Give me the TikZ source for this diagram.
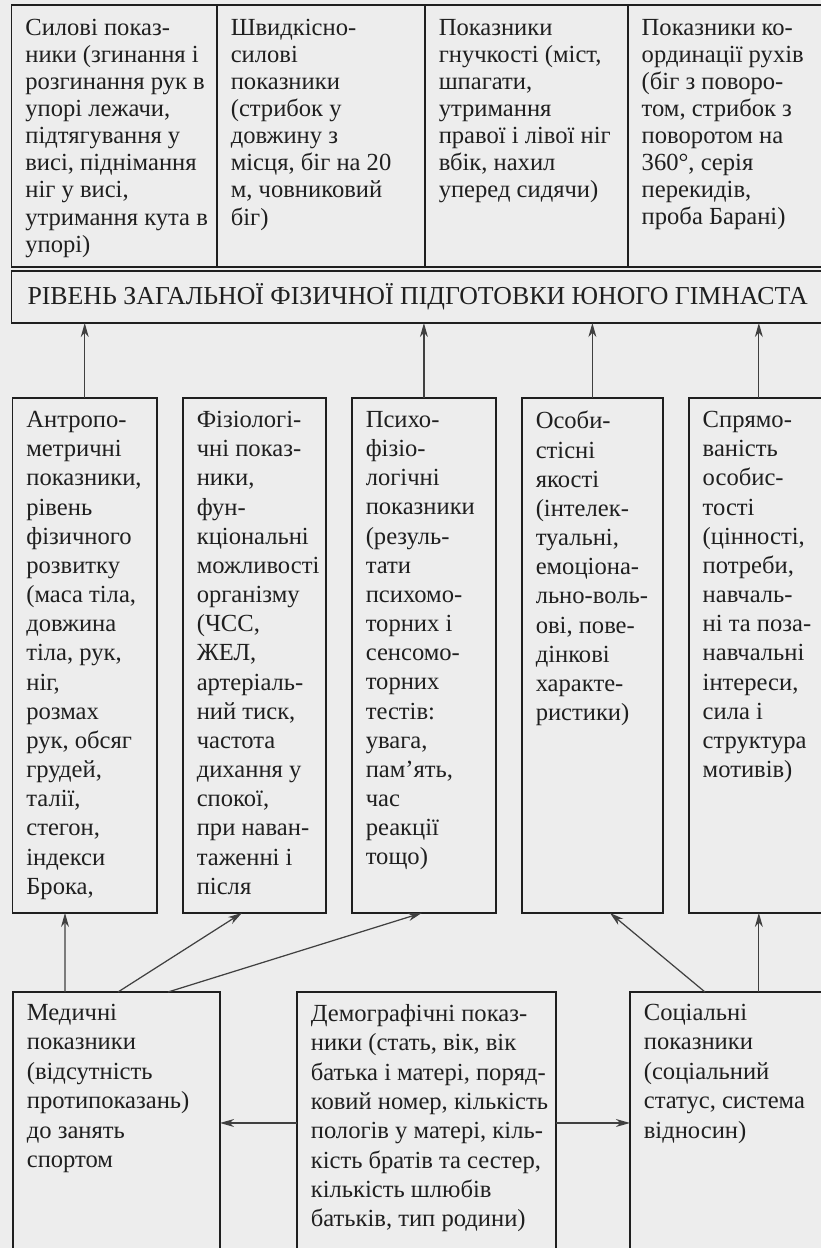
\documentclass[tikz,border=0pt]{standalone}
\usepackage{fontspec}
\setmainfont{Liberation Serif}
\usepackage{xcolor}
\usepackage{tikz}
\usetikzlibrary{arrows.meta, positioning, calc}

\definecolor{ink}{gray}{0.12}
\definecolor{paper}{gray}{0.93}

\begin{document}
\begin{tikzpicture}[x=0.02cm, y=-0.02cm,
    cell/.style={draw=ink, line width=0.8pt, inner sep=0pt, outer sep=0pt, anchor=north west},
    toptxt/.style={inner sep=0pt, align=left, text=ink, font=\fontsize{14}{15.4}\selectfont},
    midtxt/.style={inner sep=0pt, align=left, text=ink, font=\fontsize{14}{16.6}\selectfont},
    bottxt/.style={inner sep=0pt, align=left, text=ink, font=\fontsize{14}{16.7}\selectfont},
    arr/.style={-{Stealth[length=8pt, width=4.5pt, inset=2.5pt]}, draw=ink!85, line width=0.7pt}]
    % Page
    \fill[paper] (0,0) rectangle (821,1248);
    \useasboundingbox (0,0) rectangle (821,1248);

    % Top row
    \node[cell, minimum width=4.11cm, minimum height=5.24cm] (Power) at (11.5,5) {};
    \node[cell, minimum width=4.16cm, minimum height=5.24cm, right=0pt of Power] (Speed) {};
    \node[cell, minimum width=4.06cm, minimum height=5.24cm, right=0pt of Speed] (Flex) {};
    \node[cell, minimum width=4.20cm, minimum height=5.24cm, right=0pt of Flex] (Coord) {};

    \node[toptxt, below right=0.28cm and 0.27cm of Power.north west] (PowerText) {Силові показ-\\ники (згинання і\\розгинання рук в\\упорі лежачи,\\підтягування у\\висі, піднімання\\ніг у висі,\\утримання кута в\\упорі)};
    \node[toptxt, below right=0.28cm and 0.27cm of Speed.north west] (SpeedText) {Швидкісно-\\силові\\показники\\(стрибок у\\довжину з\\місця, біг на 20\\м, човниковий\\біг)};
    \node[toptxt, below right=0.28cm and 0.27cm of Flex.north west] (FlexText) {Показники\\гнучкості (міст,\\шпагати,\\утримання\\правої і лівої ніг\\вбік, нахил\\уперед сидячи)};
    \node[toptxt, below right=0.28cm and 0.27cm of Coord.north west] (CoordText) {Показники ко-\\ординації рухів\\(біг з поворо-\\том, стрибок з\\поворотом на\\360°, серія\\перекидів,\\проба Барані)};

    % Level
    \node[cell, minimum width=16.25cm, minimum height=1.04cm, text=ink, font=\fontsize{14.7}{17}\selectfont] (Level) at (11.5,271) {РІВЕНЬ ЗАГАЛЬНОЇ ФІЗИЧНОЇ ПІДГОТОВКИ ЮНОГО ГІМНАСТА};

    % Middle row
    \node[cell, minimum width=2.89cm, minimum height=10.3cm] (Anthro) at (12.5,398) {};
    \node[cell, minimum width=2.86cm, minimum height=10.3cm, right=0.52cm of Anthro] (Phys) {};
    \node[cell, minimum width=2.88cm, minimum height=10.3cm, right=0.52cm of Phys] (Psych) {};
    \node[cell, minimum width=2.82cm, minimum height=10.3cm, right=0.52cm of Psych] (Pers) {};
    \node[cell, minimum width=2.80cm, minimum height=10.3cm, right=0.52cm of Pers] (Motiv) {};

    \node[midtxt, below right=0.26cm and 0.27cm of Anthro.north west] (AnthroText) {Антропо-\\метричні\\показники,\\рівень\\фізичного\\розвитку\\(маса тіла,\\довжина\\тіла, рук,\\ніг,\\розмах\\рук, обсяг\\грудей,\\талії,\\стегон,\\індекси\\Брока,};
    \node[midtxt, below right=0.26cm and 0.27cm of Phys.north west] (PhysText) {Фізіологі-\\чні показ-\\ники,\\фун-\\кціональні\\можливості\\організму\\(ЧСС,\\ЖЕЛ,\\артеріаль-\\ний тиск,\\частота\\дихання у\\спокої,\\при наван-\\таженні і\\після};
    \node[midtxt, below right=0.26cm and 0.27cm of Psych.north west] (PsychText) {Психо-\\фізіо-\\логічні\\показники\\(резуль-\\тати\\психомо-\\торних і\\сенсомо-\\торних\\тестів:\\увага,\\пам'ять,\\час\\реакції\\тощо)};
    \node[midtxt, below right=0.26cm and 0.27cm of Pers.north west] (PersText) {Особи-\\стісні\\якості\\(інтелек-\\туальні,\\емоціона-\\льно-воль-\\ові, пове-\\дінкові\\характе-\\ристики)};
    \node[midtxt, below right=0.26cm and 0.27cm of Motiv.north west] (MotivText) {Спрямо-\\ваність\\особис-\\тості\\(цінності,\\потреби,\\навчаль-\\ні та поза-\\навчальні\\інтереси,\\сила і\\структура\\мотивів)};

    % Bottom row
    \node[cell, minimum width=4.14cm, minimum height=5.4cm] (Med) at (13,992) {};
    \node[cell, minimum width=5.18cm, minimum height=5.4cm] (Demo) at (297,992) {};
    \node[cell, minimum width=4.00cm, minimum height=5.4cm] (Soc) at (630,992) {};

    \node[bottxt, below right=0.24cm and 0.27cm of Med.north west] (MedText) {Медичні\\показники\\(відсутність\\протипоказань)\\до занять\\спортом};
    \node[bottxt, below right=0.24cm and 0.27cm of Demo.north west] (DemoText) {Демографічні показ-\\ники (стать, вік, вік\\батька і матері, поряд-\\ковий номер, кількість\\пологів у матері, кіль-\\кість братів та сестер,\\кількість шлюбів\\батьків, тип родини)};
    \node[bottxt, below right=0.24cm and 0.27cm of Soc.north west] (SocText) {Соціальні\\показники\\(соціальний\\статус, система\\відносин)};

    % Arrows up to the level
    \draw[arr] (Anthro.north) -- (Anthro.north |- Level.south);
    \draw[arr] (Psych.north) -- (Psych.north |- Level.south);
    \draw[arr] (Pers.north) -- (Pers.north |- Level.south);
    \draw[arr] (Motiv.north) -- (Motiv.north |- Level.south);

    % Arrows from the bottom row
    \draw[arr] ($(Med.north west)+(52,0)$) -- ($(Anthro.south west)+(52.5,0)$);
    \draw[arr] ($(Med.north west)+(105,0)$) -- ($(Phys.south west)+(59,0)$);
    \draw[arr] ($(Med.north west)+(155,0)$) -- ($(Psych.south west)+(70,0)$);
    \draw[arr] ($(Soc.north west)+(75,0)$) -- ($(Pers.south west)+(88,0)$);
    \draw[arr] (Soc.north -| Motiv.south) -- (Motiv.south);
    \draw[arr] ([yshift=0.08cm]Demo.west) -- ([yshift=0.08cm]Med.east);
    \draw[arr] ([yshift=0.08cm]Demo.east) -- ([yshift=0.08cm]Soc.west);
\end{tikzpicture}
\end{document}
